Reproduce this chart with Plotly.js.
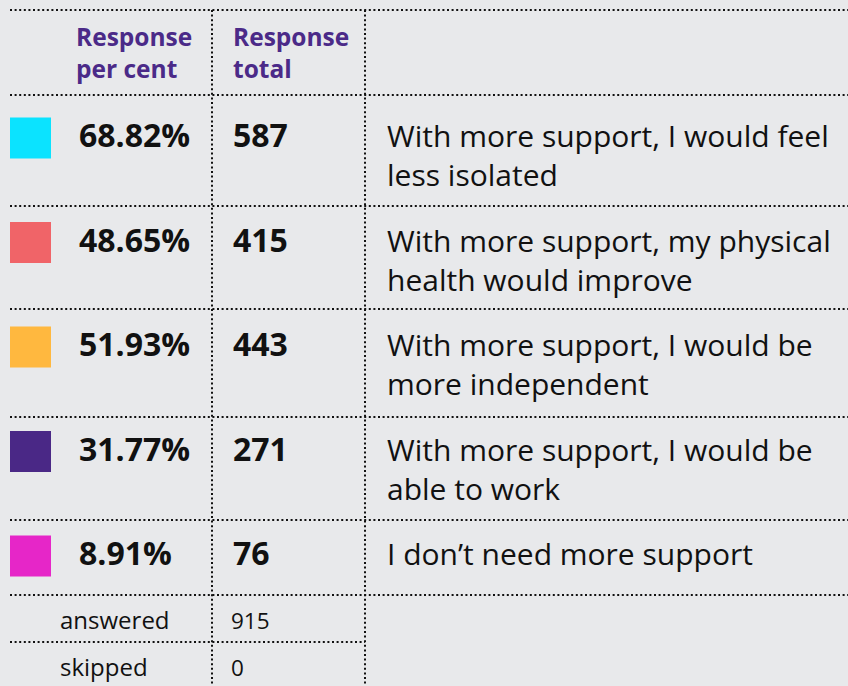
<!DOCTYPE html>
<html><head><meta charset="utf-8">
<script src="https://cdn.plot.ly/plotly-3.0.1.min.js"></script>
<style>html,body{margin:0;padding:0;background:#e8e9eb;}#chart{width:848px;height:686px;}</style>
</head><body><div id="chart"></div>
<script>
// ---- data ----
const categories = [
  "With more support, I would feel<br>less isolated",
  "With more support, my physical<br>health would improve",
  "With more support, I would be<br>more independent",
  "With more support, I would be<br>able to work",
  "I don\u2019t need more support"
];
const percents = [68.82, 48.65, 51.93, 31.77, 8.91];
const totals = [587, 415, 443, 271, 76];
const colors = ["#0be3ff", "#f06468", "#ffb83f", "#4a2886", "#e626c8"];
const headers = ["Response<br>per cent", "Response<br>total"];
const summaryLabels = ["answered", "skipped"];
const summaryValues = [915, 0];

// ---- layout helpers ----
const W = 848, H = 686;
const PITCH = 104.5;       // px per row
const BASE0 = 147;         // baseline px of first row
const FONT = "'Open Sans', Lato, sans-serif";
const toV = px => (px - BASE0) / PITCH;
const off = px => px / PITCH;
const idx = categories.map((_, i) => i);

const fsP = 32, fsD = 30, fsH = 24.5, fsS = 24, fsSV = 22.5;
const black = "#111111", purple = "#4b2a88";

const traces = [
  { type: "scatter", mode: "markers", x: idx.map(() => 30.5), y: idx.map(i => i + off(-9)),
    marker: { symbol: "square", size: 41, color: colors, line: { width: 0 } }, hoverinfo: "skip" },
  { type: "scatter", mode: "text", x: idx.map(() => 79), y: idx.map(i => i - off(0.75 * fsP)),
    text: percents.map(p => p.toFixed(2) + "%"), textposition: "bottom right",
    textfont: { family: FONT, size: fsP, color: black, weight: 700 }, hoverinfo: "skip" },
  { type: "scatter", mode: "text", x: idx.map(() => 233), y: idx.map(i => i - off(0.75 * fsP)),
    text: totals.map(String), textposition: "bottom right",
    textfont: { family: FONT, size: fsP, color: black, weight: 700 }, hoverinfo: "skip" },
  { type: "scatter", mode: "text", x: idx.map(() => 387), y: idx.map(i => i - off(0.75 * fsD)),
    text: categories, textposition: "bottom right",
    textfont: { family: FONT, size: fsD, color: black }, hoverinfo: "skip" },
  { type: "scatter", mode: "text", x: [76, 233], y: headers.map(() => toV(46) - off(0.75 * fsH)),
    text: headers, textposition: "bottom right",
    textfont: { family: FONT, size: fsH, color: purple, weight: 700 }, hoverinfo: "skip" },
  { type: "scatter", mode: "text", x: summaryLabels.map(() => 60), y: summaryLabels.map((_, k) => toV(629 + 47 * k) - off(0.75 * fsS)),
    text: summaryLabels, textposition: "bottom right",
    textfont: { family: FONT, size: fsS, color: black }, hoverinfo: "skip" },
  { type: "scatter", mode: "text", x: summaryValues.map(() => 231), y: summaryValues.map((_, k) => toV(629 + 47 * k) - off(0.75 * fsSV)),
    text: summaryValues.map(String), textposition: "bottom right",
    textfont: { family: FONT, size: fsSV, color: black }, hoverinfo: "skip" }
];

const dotLine = { color: "#111111", width: 2, dash: "2px,2.6px" };
const hLines = [[10, 848, 10], [10, 848, 95], [10, 848, 206], [10, 848, 309], [10, 848, 417], [10, 848, 520], [10, 848, 595], [10, 365, 642]];
const vLines = [[212, 10, 686], [365, 10, 686]];
const shapes = [];
hLines.forEach(([x0, x1, y]) => shapes.push({ type: "line", xref: "x", yref: "paper", x0, x1, y0: 1 - y / H, y1: 1 - y / H, line: dotLine }));
vLines.forEach(([x, y0, y1]) => shapes.push({ type: "line", xref: "x", yref: "paper", x0: x, x1: x, y0: 1 - y0 / H, y1: 1 - y1 / H, line: dotLine }));

const layout = {
  width: W, height: H, margin: { l: 0, r: 0, t: 0, b: 0, pad: 0 },
  paper_bgcolor: "#e8e9eb", plot_bgcolor: "#e8e9eb", showlegend: false,
  xaxis: { range: [0, W], visible: false, fixedrange: true },
  yaxis: { range: [toV(H), toV(0)], visible: false, fixedrange: true },
  shapes: shapes, font: { family: FONT }
};
Plotly.newPlot("chart", traces, layout, { displayModeBar: false, staticPlot: true });
</script></body></html>
